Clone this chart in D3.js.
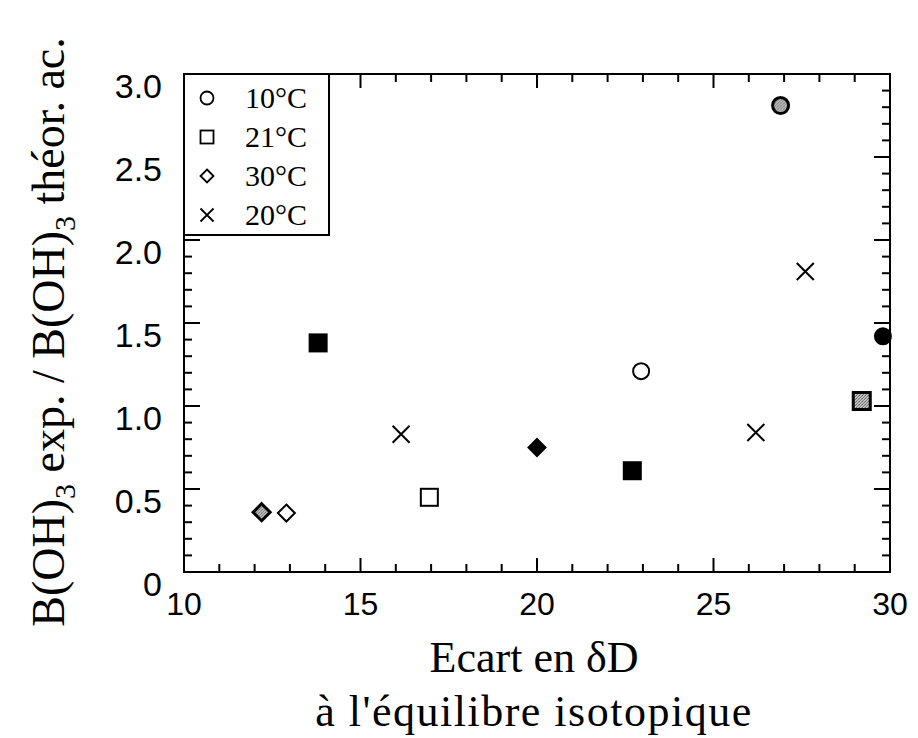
<!DOCTYPE html>
<html>
<head>
<meta charset="utf-8">
<script src="https://cdn.jsdelivr.net/npm/d3@7"></script>
<style>
  body { margin: 0; background: #fff; }
  svg { display: block; }
</style>
</head>
<body>
<svg id="chart"></svg>
<script>
// data
const circleX = [26.9, 22.95, 29.8];
const circleY = [2.81, 1.21, 1.42];
const circleFill = ["gray", "open", "solid"];

const squareX = [13.8, 16.95, 22.7, 29.2];
const squareY = [1.38, 0.45, 0.61, 1.03];
const squareFill = ["solid", "open", "solid", "gray"];

const diamondX = [12.2, 12.9, 20.0];
const diamondY = [0.36, 0.355, 0.75];
const diamondFill = ["gray", "open", "solid"];

const crossX = [16.15, 26.2, 27.6];
const crossY = [0.83, 0.84, 1.81];

const legendLabels = ["10°C", "21°C", "30°C", "20°C"];
const xTicks = [10, 15, 20, 25, 30];
const yTicks = [0, 0.5, 1.0, 1.5, 2.0, 2.5, 3.0];
const yTickLabels = ["0", "0.5", "1.0", "1.5", "2.0", "2.5", "3.0"];

const width = 918, height = 738;
const svg = d3.select("#chart").attr("width", width).attr("height", height);

const x = d3.scaleLinear().domain([10, 30]).range([184, 890]);
const y = d3.scaleLinear().domain([0, 3]).range([572, 74]);

// stipple pattern for the grey markers
const defs = svg.append("defs");
const pat = defs.append("pattern").attr("id", "stip")
    .attr("width", 3).attr("height", 3).attr("patternUnits", "userSpaceOnUse");
pat.append("rect").attr("width", 3).attr("height", 3).attr("fill", "#cfcfcf");
pat.append("rect").attr("width", 1).attr("height", 1).attr("fill", "#333");
pat.append("rect").attr("x", 2).attr("y", 1).attr("width", 1).attr("height", 1).attr("fill", "#555");
pat.append("rect").attr("x", 1).attr("y", 2).attr("width", 1).attr("height", 1).attr("fill", "#666");

function fillOf(k) {
    if (k === "solid") return "#000";
    if (k === "gray") return "url(#stip)";
    return "#fff";
}

const axisFont = "'Liberation Sans', Arial, Helvetica, sans-serif";
const serif = "'Liberation Serif', 'Times New Roman', Times, serif";

// ticks on all four sides, pointing inward
function drawTicks(g) {
    const minorX = d3.range(10, 30.01, 1);
    const minorY = d3.range(0, 3.001, 0.1);
    minorX.forEach(v => {
        const major = Math.abs(v % 5) < 1e-6;
        const len = major ? 14 : 8;
        g.append("line").attr("x1", x(v)).attr("x2", x(v)).attr("y1", y(0)).attr("y2", y(0) - len);
        g.append("line").attr("x1", x(v)).attr("x2", x(v)).attr("y1", y(3)).attr("y2", y(3) + len);
    });
    minorY.forEach(v => {
        const major = Math.abs((v * 10) % 5) < 1e-6 || Math.abs((v * 10) % 5 - 5) < 1e-6;
        const len = major ? 16 : 8;
        g.append("line").attr("y1", y(v)).attr("y2", y(v)).attr("x1", x(10)).attr("x2", x(10) + len);
        g.append("line").attr("y1", y(v)).attr("y2", y(v)).attr("x1", x(30)).attr("x2", x(30) - len);
    });
}

const frame = svg.append("g").attr("stroke", "#000").attr("stroke-width", 2).attr("fill", "none");
frame.append("rect")
    .attr("x", x(10)).attr("y", y(3))
    .attr("width", x(30) - x(10)).attr("height", y(0) - y(3));
drawTicks(frame);

// tick labels
svg.append("g").selectAll("text").data(xTicks).enter().append("text")
    .attr("x", d => x(d)).attr("y", 615)
    .attr("text-anchor", "middle")
    .attr("font-family", axisFont).attr("font-size", 32)
    .text(d => d);

svg.append("g").selectAll("text").data(yTicks).enter().append("text")
    .attr("x", 162).attr("y", d => y(d) + 24)
    .attr("text-anchor", "end")
    .attr("font-family", axisFont).attr("font-size", 34)
    .text((d, i) => yTickLabels[i]);

// markers
const sym = {
    circle: (s, r) => s.append("circle").attr("r", r),
    square: (s, r) => s.append("rect").attr("x", -r).attr("y", -r).attr("width", 2 * r).attr("height", 2 * r),
    diamond: (s, r) => s.append("path").attr("d", `M0,${-r}L${r},0L0,${r}L${-r},0Z`),
    cross: (s, r) => s.append("path").attr("d", `M${-r},${-r}L${r},${r}M${-r},${r}L${r},${-r}`)
};

const pts = svg.append("g");
function drawSeries(xs, ys, fills, shape, r) {
    xs.forEach((v, i) => {
        const g = pts.append("g").attr("transform", `translate(${x(v)},${y(ys[i])})`);
        const m = sym[shape](g, r);
        if (shape === "cross") {
            m.attr("fill", "none").attr("stroke", "#000").attr("stroke-width", 2);
        } else {
            const f = fills[i];
            m.attr("fill", fillOf(f)).attr("stroke", "#000")
             .attr("stroke-width", f === "gray" ? 3 : 2);
        }
    });
}
drawSeries(circleX, circleY, circleFill, "circle", 8);
drawSeries(squareX, squareY, squareFill, "square", 8.5);
drawSeries(diamondX, diamondY, diamondFill, "diamond", 8.5);
drawSeries(crossX, crossY, null, "cross", 8.5);

// legend box
const legend = svg.append("g");
legend.append("rect")
    .attr("x", x(10)).attr("y", y(3))
    .attr("width", 145).attr("height", 161)
    .attr("fill", "#fff").attr("stroke", "#000").attr("stroke-width", 2);
const shapes = ["circle", "square", "diamond", "cross"];
const legendRows = legend.selectAll("g.item").data(legendLabels).enter().append("g")
    .attr("class", "item")
    .attr("transform", (d, i) => `translate(207, ${98 + i * 39})`);
legendRows.each(function (d, i) {
    const g = d3.select(this);
    const m = sym[shapes[i]](g, 6.5);
    m.attr("fill", shapes[i] === "cross" ? "none" : "#fff")
     .attr("stroke", "#000").attr("stroke-width", 1.8);
    g.append("text").attr("x", 38).attr("y", 10)
        .attr("font-family", serif).attr("font-size", 30)
        .text(d);
});

// axis titles
svg.append("text")
    .attr("x", 534).attr("y", 672)
    .attr("text-anchor", "middle")
    .attr("font-family", serif).attr("font-size", 44)
    .text("Ecart en δD");
svg.append("text")
    .attr("x", 534).attr("y", 726)
    .attr("text-anchor", "middle")
    .attr("font-family", serif).attr("font-size", 44)
    .attr("letter-spacing", 1.5)
    .text("à l'équilibre isotopique");

const yt = svg.append("text")
    .attr("transform", "translate(64, 332) rotate(-90)")
    .attr("text-anchor", "middle")
    .attr("font-family", serif).attr("font-size", 46);
yt.append("tspan").text("B(OH)");
yt.append("tspan").attr("font-size", 30).attr("dy", 11).text("3");
yt.append("tspan").attr("dy", -11).text(" exp. / B(OH)");
yt.append("tspan").attr("font-size", 30).attr("dy", 11).text("3");
yt.append("tspan").attr("dy", -11).text(" théor. ac.");
</script>
</body>
</html>
